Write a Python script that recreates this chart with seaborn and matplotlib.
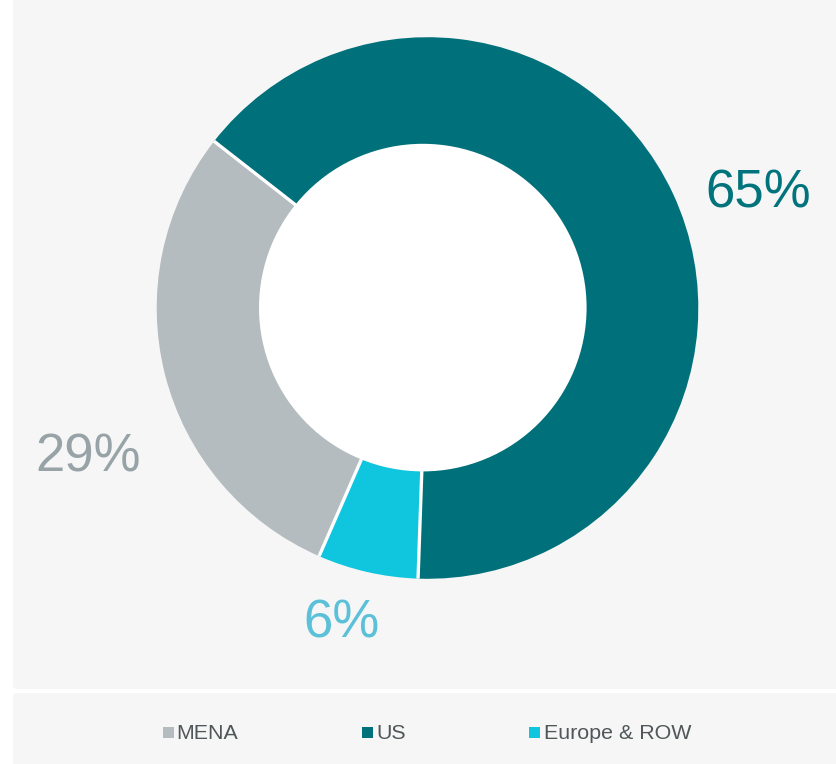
import matplotlib
matplotlib.use("Agg")
import numpy as np
import matplotlib.pyplot as plt
from matplotlib.patches import FancyBboxPatch, Rectangle, Circle
import seaborn as sns

# Revenue split by region
regions = ["MENA", "US", "Europe & ROW"]
shares = [29, 65, 6]
slice_colors = ["#b5bcbf", "#00717a", "#0fc6de"]
label_colors = ["#97a3a6", "#00737c", "#5bc0d8"]

sns.set_theme(style="white")
plt.rcParams["font.family"] = ["Liberation Sans", "DejaVu Sans"]

W, H = 836, 764
fig = plt.figure(figsize=(W / 100, H / 100), dpi=100)
fig.patch.set_facecolor("white")

# pixel-space axes covering the whole canvas (y measured upward)
ax = fig.add_axes([0, 0, 1, 1])
panel = "#f6f6f6"

# chart panel and legend panel
ax.add_patch(FancyBboxPatch((13, H - 689), W - 13 + 10, 689 + 10,
                            boxstyle="round,pad=0,rounding_size=4",
                            facecolor=panel, edgecolor="none", zorder=0))
ax.add_patch(FancyBboxPatch((13, -10), W - 13 + 10, (H - 693) + 10,
                            boxstyle="round,pad=0,rounding_size=4",
                            facecolor=panel, edgecolor="none", zorder=0))

# donut ring
cx, cy, r_out = 427.5, H - 308, 270.8
wedges, _ = ax.pie(shares, colors=slice_colors, startangle=246.4,
                   counterclock=False, center=(cx, cy), radius=r_out,
                   wedgeprops=dict(edgecolor="none", linewidth=0))
# white separators along each slice boundary
for w in wedges:
    a = np.deg2rad(w.theta1)
    ax.plot([cx, cx + r_out * np.cos(a)], [cy, cy + r_out * np.sin(a)],
            color="white", lw=2.4, solid_capstyle="butt", zorder=4)
ax.add_patch(Circle((422.8, H - 307.6), 163.8, facecolor="white",
                    edgecolor="none", zorder=5))

# percentage labels (left edge, baseline) in pixels from the top
label_pos = [(35, 471), (705, 207), (303, 637)]
for share, col, (lx, ly) in zip(shares, label_colors, label_pos):
    ax.text(lx, H - ly, f"{share}%", color=col, fontsize=38,
            ha="left", va="baseline", zorder=6)

# legend row
legend_sq_x = [163, 362, 529]
legend_txt_x = [176.5, 376.5, 544]
for name, col, sx, tx in zip(regions, slice_colors, legend_sq_x, legend_txt_x):
    ax.add_patch(Rectangle((sx, H - 738), 11, 11, facecolor=col,
                           edgecolor="none", zorder=6))
    ax.text(tx, H - 739.3, name, color="#4f5759", fontsize=15.4,
            ha="left", va="baseline", zorder=6)

ax.set_xlim(0, W)
ax.set_ylim(0, H)
ax.set_aspect("auto")
ax.axis("off")

fig.savefig("out.png", dpi=100, facecolor="white")
